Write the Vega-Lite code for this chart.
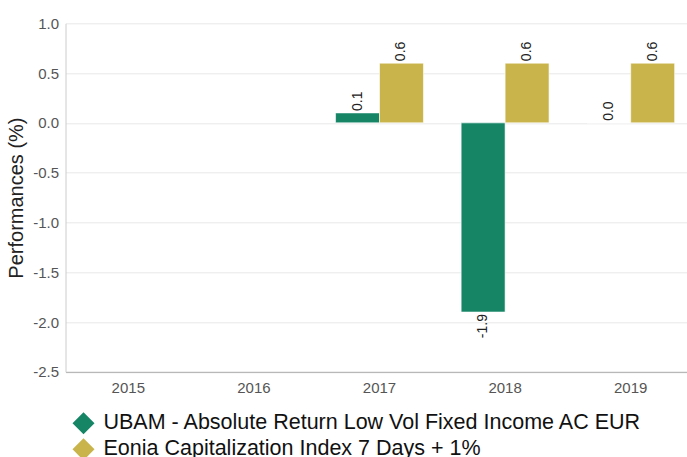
{
  "$schema": "https://vega.github.io/schema/vega-lite/v6.json",
  "autosize": "none",
  "width": 628,
  "height": 348.5,
  "padding": {"left": 65.5, "top": 23.3, "right": 0, "bottom": 85.2},
  "background": "white",
  "config": {
    "font": "Liberation Sans",
    "view": {"stroke": null},
    "locale": {
      "number": {"decimal": ".", "thousands": ",", "grouping": [3], "currency": ["$", ""], "minus": "-"}
    }
  },
  "data": {
    "values": [
      {"year": "2015", "series": "UBAM - Absolute Return Low Vol Fixed Income AC EUR", "value": null},
      {"year": "2015", "series": "Eonia Capitalization Index 7 Days + 1%", "value": null},
      {"year": "2016", "series": "UBAM - Absolute Return Low Vol Fixed Income AC EUR", "value": null},
      {"year": "2016", "series": "Eonia Capitalization Index 7 Days + 1%", "value": null},
      {"year": "2017", "series": "UBAM - Absolute Return Low Vol Fixed Income AC EUR", "value": 0.1},
      {"year": "2017", "series": "Eonia Capitalization Index 7 Days + 1%", "value": 0.6},
      {"year": "2018", "series": "UBAM - Absolute Return Low Vol Fixed Income AC EUR", "value": -1.9},
      {"year": "2018", "series": "Eonia Capitalization Index 7 Days + 1%", "value": 0.6},
      {"year": "2019", "series": "UBAM - Absolute Return Low Vol Fixed Income AC EUR", "value": 0.0},
      {"year": "2019", "series": "Eonia Capitalization Index 7 Days + 1%", "value": 0.6}
    ]
  },
  "encoding": {
    "x": {
      "field": "year", "type": "nominal",
      "scale": {"domain": ["2015", "2016", "2017", "2018", "2019"], "paddingInner": 0.3, "paddingOuter": 0.15},
      "axis": {
        "title": null, "labelAngle": 0, "labelFontSize": 15, "labelColor": "#555555",
        "ticks": false, "domainColor": "#aaaaaa", "labelPadding": 9, "grid": false
      }
    },
    "xOffset": {
      "field": "series", "type": "nominal",
      "sort": ["UBAM - Absolute Return Low Vol Fixed Income AC EUR", "Eonia Capitalization Index 7 Days + 1%"],
      "scale": {"paddingInner": 0, "paddingOuter": 0}
    },
    "y": {
      "field": "value", "type": "quantitative",
      "scale": {"domain": [-2.5, 1.0], "nice": false, "zero": false},
      "axis": {
        "title": "Performances (%)", "titleFontSize": 20, "titleFontWeight": "normal", "titleColor": "#222222",
        "titlePadding": 6,
        "values": [-2.5, -2.0, -1.5, -1.0, -0.5, 0.0, 0.5, 1.0], "format": ".1f",
        "labelFontSize": 15, "labelColor": "#555555", "ticks": false, "labelPadding": 7,
        "domainColor": "#cccccc", "gridColor": "#e8e8e8"
      }
    }
  },
  "layer": [
    {
      "mark": {"type": "bar", "stroke": "white", "strokeWidth": 1, "strokeOpacity": 0.6},
      "encoding": {
        "color": {
          "field": "series", "type": "nominal",
          "sort": ["UBAM - Absolute Return Low Vol Fixed Income AC EUR", "Eonia Capitalization Index 7 Days + 1%"],
          "scale": {"range": ["#158566", "#c8b44a"]},
          "legend": {
            "title": null, "orient": "none", "legendX": 7, "legendY": 389,
            "direction": "vertical", "symbolType": "diamond", "symbolSize": 484,
            "symbolStrokeWidth": 0, "labelFontSize": 21.5, "labelColor": "#111111",
            "labelLimit": 700, "rowPadding": 4, "labelOffset": 9
          }
        }
      }
    },
    {
      "transform": [{"filter": "datum.value !== null && datum.value >= 0"}],
      "mark": {"type": "text", "angle": 270, "align": "left", "baseline": "middle", "dx": 2, "fontSize": 14, "color": "#222222"},
      "encoding": {
        "text": {"field": "value", "type": "quantitative", "format": ".1f"}
      }
    },
    {
      "transform": [{"filter": "datum.value !== null && datum.value < 0"}],
      "mark": {"type": "text", "angle": 270, "align": "right", "baseline": "middle", "dx": -2, "fontSize": 14, "color": "#222222"},
      "encoding": {
        "text": {"field": "value", "type": "quantitative", "format": ".1f"}
      }
    }
  ]
}
